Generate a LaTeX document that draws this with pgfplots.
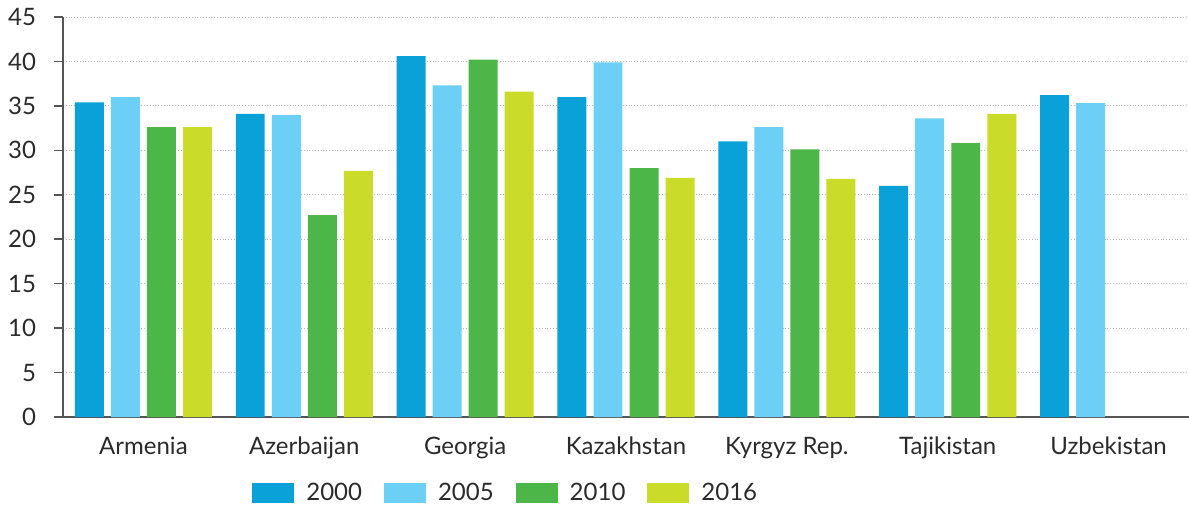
\documentclass[border=0pt]{standalone}
\usepackage{fontspec}
\setmainfont{Lato}
\usepackage{pgfplots}
\pgfplotsset{compat=1.18}

\definecolor{c2000}{HTML}{0AA0D8}
\definecolor{c2005}{HTML}{6BCFF6}
\definecolor{c2010}{HTML}{4CB748}
\definecolor{c2016}{HTML}{CADB2A}
\definecolor{txt}{HTML}{2B2B2B}
\definecolor{axisgray}{HTML}{555555}

\begin{document}
\begin{tikzpicture}
\begin{axis}[
    scale only axis,
    width=563pt, height=200pt,
    ybar,
    bar width=0.18,
    xmin=-0.5, xmax=6.5,
    ymin=0, ymax=45,
    ytick={0,5,...,45},
    xtick={0,...,6},
    xticklabels={Armenia, Azerbaijan, Georgia, Kazakhstan, Kyrgyz Rep., Tajikistan, Uzbekistan},
    axis x line*=bottom,
    axis y line*=left,
    axis line style={axisgray, line width=0.8pt},
    x tick style={draw=none},
    y tick style={axisgray, line width=0.8pt},
    ytick align=outside,
    major tick length=4.5pt,
    extra x ticks={0.5,1.5,2.5,3.5,4.5,5.5},
    extra x tick labels={},
    extra x tick style={grid=none, tick align=inside, major tick length=3.5pt,
        tick style={draw=axisgray, line width=0.6pt}},
    ymajorgrids,
    major grid style={densely dotted, gray!55, line width=0.5pt},
    tick label style={font=\fontsize{12}{14}\selectfont, text=txt},
    /pgf/number format/assume math mode=true,
    yticklabel style={xshift=-5.5pt},
    xticklabel style={yshift=-2pt},
    legend columns=4,
    legend style={draw=none, at={(0.1625,-0.19)}, anchor=west,
        font=\fontsize{12}{14}\selectfont, text=txt,
        /tikz/every even column/.append style={column sep=5pt},
        nodes={inner xsep=6pt}},
    legend image code/.code={\fill[#1,draw=none] (0pt,-5pt) rectangle (21pt,5pt);},
]
\addplot[fill=c2000, draw=none, bar shift=-0.336] coordinates {
    (0,35.4) (1,34.1) (2,40.6) (3,36.0) (4,31.0) (5,26.0) (6,36.2)
};
\addplot[fill=c2005, draw=none, bar shift=-0.112] coordinates {
    (0,36.0) (1,34.0) (2,37.3) (3,39.9) (4,32.6) (5,33.6) (6,35.3)
};
\addplot[fill=c2010, draw=none, bar shift=0.112] coordinates {
    (0,32.6) (1,22.7) (2,40.2) (3,28.0) (4,30.1) (5,30.8)
};
\addplot[fill=c2016, draw=none, bar shift=0.336] coordinates {
    (0,32.6) (1,27.7) (2,36.6) (3,26.9) (4,26.8) (5,34.1)
};
\legend{2000, 2005, 2010, 2016}
\end{axis}
\pgfresetboundingbox
\path[use as bounding box] ([xshift=-31.5pt,yshift=-46.5pt]current axis.south west)
    rectangle ([yshift=8.5pt]current axis.north east);
\end{tikzpicture}
\end{document}
